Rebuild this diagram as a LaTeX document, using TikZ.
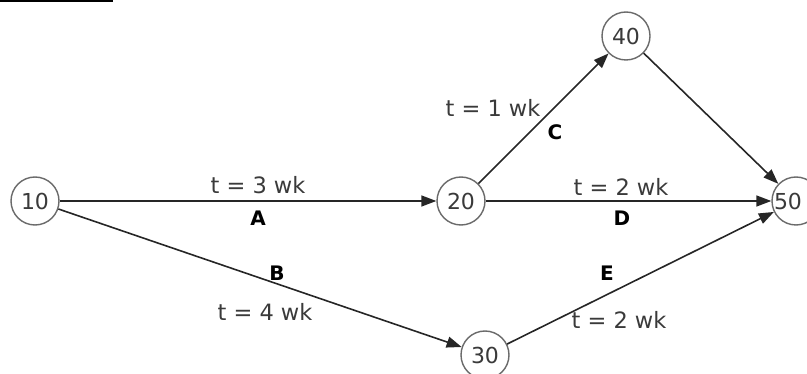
\documentclass[tikz,border=0pt]{standalone}
\usepackage{fontspec}
\setmainfont{DejaVu Sans}
\usetikzlibrary{arrows.meta}
\definecolor{edgecol}{HTML}{262626}
\definecolor{circcol}{HTML}{6A6A6A}
\definecolor{txtcol}{HTML}{3A3A3A}
\tikzset{
  event/.style={circle, draw=circcol, line width=1.4pt, minimum size=48pt, inner sep=0pt,
    text=txtcol, font=\fontsize{22}{26}\selectfont},
  evtext/.style={inner sep=0pt, text=txtcol, font=\fontsize{22}{26}\selectfont},
  act/.style={draw=edgecol, line width=1.6pt, -{Triangle[length=15pt,width=11pt]}},
  dur/.style={text=txtcol, inner sep=0pt, font=\fontsize{22.5}{26}\selectfont},
  actname/.style={text=black, inner sep=0pt, font=\fontsize{20}{24}\selectfont\bfseries},
}
\begin{document}
\begin{tikzpicture}[x=1pt,y=-1pt]
\useasboundingbox (0,0) rectangle (807,374);
\fill[black] (0,0) rectangle (113,2.5);
\node[event] (n10) at (35,201) {10};
\node[event] (n20) at (461,201) {20};
\node[event] (n40) at (626,36) {40};
\node[event] (n50) at (796,201) {};
\node[evtext] (n50t) at (788,201) {50};
\node[event] (n30) at (485,355) {30};
\draw[act] (n10) -- (n20);
\draw[act] (n10) -- (n30);
\draw[act] (n20) -- (n40);
\draw[act] (n20) -- (n50);
\draw[act] (n40) -- (n50);
\draw[act] (n30) -- (n50);
\node[dur] (tA) at (258,185) {t = 3 wk};
\node[actname] (lA) at (258,218) {A};
\node[actname] (lB) at (277,273) {B};
\node[dur] (tB) at (265,312) {t = 4 wk};
\node[dur] (tC) at (493,108) {t = 1 wk};
\node[actname] (lC) at (555,132) {C};
\node[dur] (tD) at (621,187) {t = 2 wk};
\node[actname] (lD) at (622,218) {D};
\node[actname] (lE) at (607,273) {E};
\node[dur] (tE) at (619,320) {t = 2 wk};
\end{tikzpicture}
\end{document}
